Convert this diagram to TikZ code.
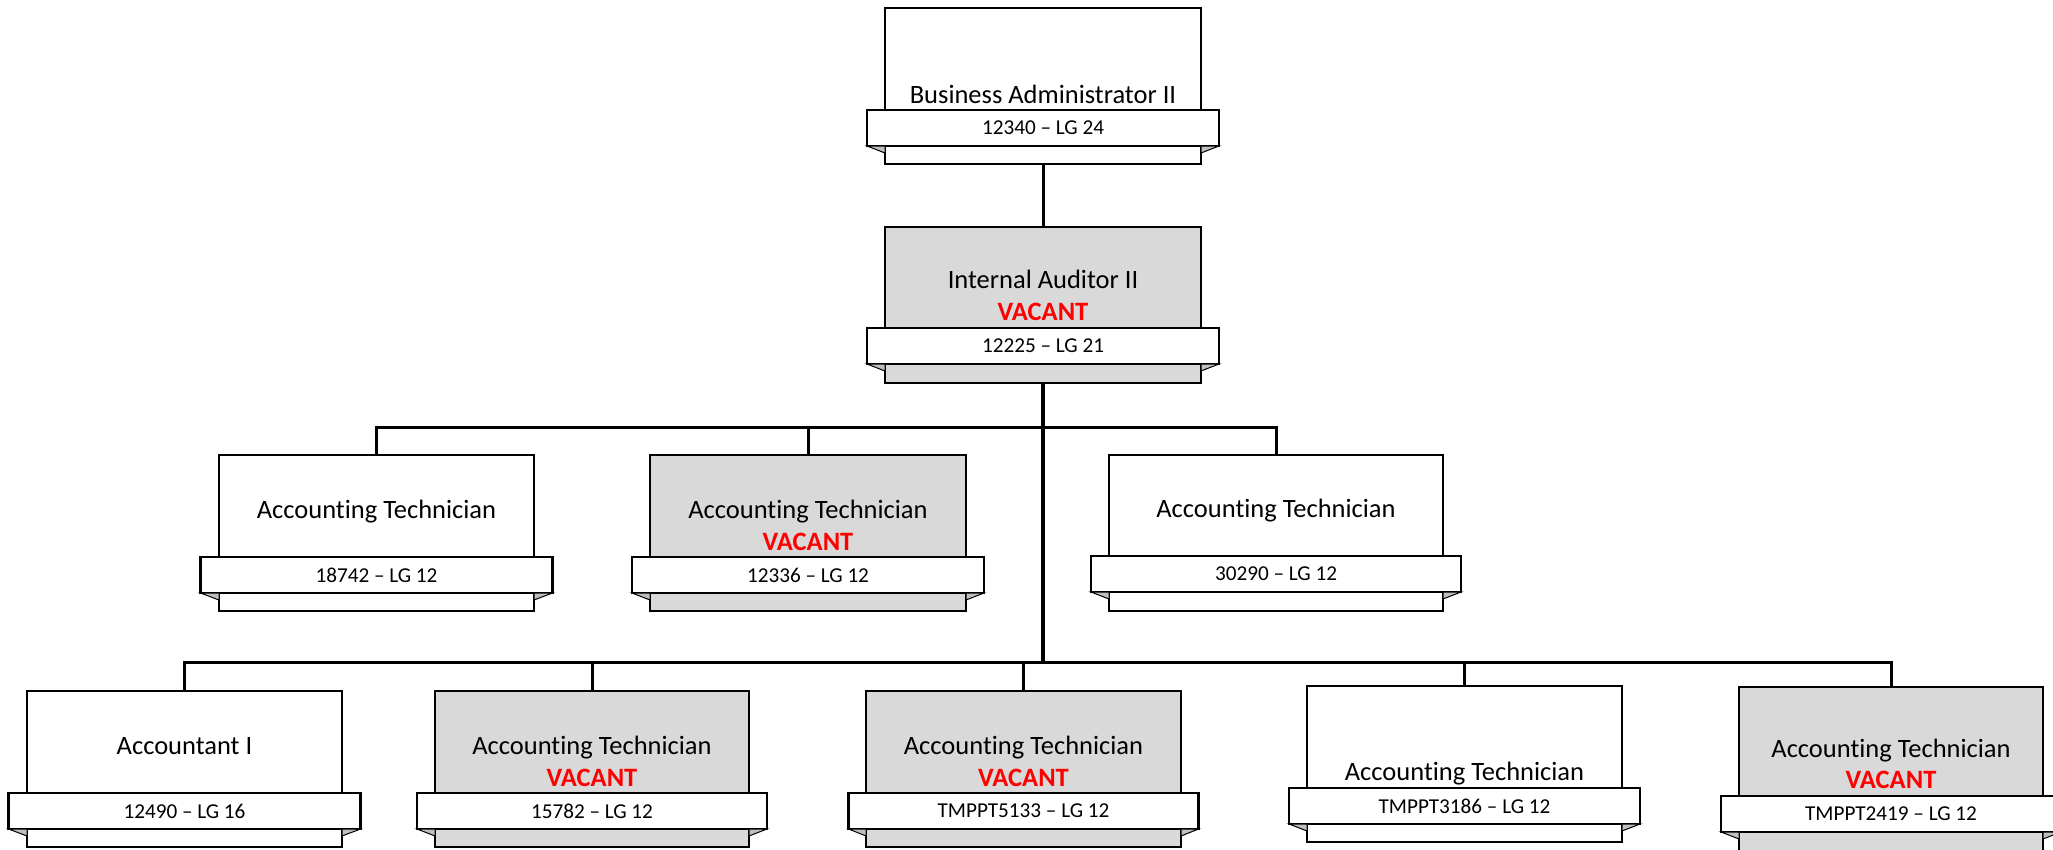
\documentclass[tikz,border=0pt]{standalone}
\usepackage{fontspec}
\setmainfont{Carlito}[Ligatures={TeX,NoCommon}]
\usepackage{tikz}
\usetikzlibrary{positioning}

\definecolor{boxgray}{HTML}{D9D9D9}
\definecolor{tabgray}{HTML}{BFBFBF}
\definecolor{vacantred}{HTML}{FF0000}

\tikzset{
  posbox/.style={draw, line width=1.6pt, fill=white, minimum height=156pt, inner sep=0pt, outer sep=0pt},
  vacantbox/.style={posbox, fill=boxgray},
  banner/.style={draw, line width=2.6pt, fill=white, minimum height=36pt, inner sep=0pt, outer sep=0pt,
    font=\fontsize{21.2}{25}\selectfont},
  title/.style={anchor=base, inner sep=0pt, font=\fontsize{26.5}{31}\selectfont},
  vacant/.style={title, text=vacantred, font=\fontsize{26.5}{31}\selectfont\bfseries},
  tab/.style={fill=tabgray, draw=black, line width=1pt},
  link/.style={line width=3pt},
  trunk/.style={line width=4pt}
}

% small folded ends under a banner
\newcommand{\bannertabs}[2]{%
  \filldraw[tab] (#2.south west) -- ([yshift=-7pt]#2.south west -| #1.west) -- (#2.south west -| #1.west) -- cycle;
  \filldraw[tab] (#2.south east) -- ([yshift=-7pt]#2.south east -| #1.east) -- (#2.south east -| #1.east) -- cycle;}

\begin{document}
\begin{tikzpicture}[x=1pt, y=-1pt]
\useasboundingbox (0,0) rectangle (2053,849);
\clip (0,0) rectangle (2053,849);

% top two levels
\node[posbox, minimum width=316pt] (ba) at (1043,86) {};
\node[title] (ba-title) at ([yshift=-95pt]ba.north) {Business Administrator II};
\node[banner, minimum width=352pt, below=102pt of ba.north] (ba-id) {12340 -- LG 24};
\bannertabs{ba}{ba-id}

\node[vacantbox, minimum width=316pt] (ia) at (1043,305) {};
\node[title] (ia-title) at ([yshift=-61pt]ia.north) {Internal Auditor II};
\node[vacant] (ia-vacant) at ([yshift=-93pt]ia.north) {VACANT};
\node[banner, minimum width=352pt, below=101pt of ia.north] (ia-id) {12225 -- LG 21};
\bannertabs{ia}{ia-id}

% middle row
\node[posbox, minimum width=315pt] (at1) at (376.5,533) {};
\node[title] (at1-title) at ([yshift=-63pt]at1.north) {Accounting Technician};
\node[banner, minimum width=352pt, below=102pt of at1.north] (at1-id) {18742 -- LG 12};
\bannertabs{at1}{at1-id}

\node[vacantbox, minimum width=316pt] (at2) at (808,533) {};
\node[title] (at2-title) at ([yshift=-63pt]at2.north) {Accounting Technician};
\node[vacant] (at2-vacant) at ([yshift=-95pt]at2.north) {VACANT};
\node[banner, minimum width=352pt, below=102pt of at2.north] (at2-id) {12336 -- LG 12};
\bannertabs{at2}{at2-id}

\node[posbox, minimum width=334pt] (at3) at (1276,533) {};
\node[title] (at3-title) at ([yshift=-62pt]at3.north) {Accounting Technician};
\node[banner, minimum width=370pt, below=101pt of at3.north] (at3-id) {30290 -- LG 12};
\bannertabs{at3}{at3-id}

% bottom row
\node[posbox, minimum width=315pt] (ac) at (184.5,769) {};
\node[title] (ac-title) at ([yshift=-63pt]ac.north) {Accountant I};
\node[banner, minimum width=352pt, below=102pt of ac.north] (ac-id) {12490 -- LG 16};
\bannertabs{ac}{ac-id}

\node[vacantbox, minimum width=314pt] (at4) at (592,769) {};
\node[title] (at4-title) at ([yshift=-63pt]at4.north) {Accounting Technician};
\node[vacant] (at4-vacant) at ([yshift=-95pt]at4.north) {VACANT};
\node[banner, minimum width=350pt, below=102pt of at4.north] (at4-id) {15782 -- LG 12};
\bannertabs{at4}{at4-id}

\node[vacantbox, minimum width=315pt] (at5) at (1023.5,769) {};
\node[title] (at5-title) at ([yshift=-63pt]at5.north) {Accounting Technician};
\node[vacant] (at5-vacant) at ([yshift=-95pt]at5.north) {VACANT};
\node[banner, minimum width=350pt, below=102pt of at5.north] (at5-id) {TMPPT5133 -- LG 12};
\bannertabs{at5}{at5-id}

\node[posbox, minimum width=315pt] (at6) at (1464.5,764) {};
\node[title] (at6-title) at ([yshift=-94pt]at6.north) {Accounting Technician};
\node[banner, minimum width=351pt, below=102pt of at6.north] (at6-id) {TMPPT3186 -- LG 12};
\bannertabs{at6}{at6-id}

\node[vacantbox, minimum width=304pt, minimum height=170pt] (at7) at (1891,772) {};
\node[title] (at7-title) at ([yshift=-70pt]at7.north) {Accounting Technician};
\node[vacant] (at7-vacant) at ([yshift=-101pt]at7.north) {VACANT};
\node[banner, minimum width=340pt, below=109pt of at7.north] (at7-id) {TMPPT2419 -- LG 12};
\bannertabs{at7}{at7-id}

% connectors
\coordinate (bus1) at (0,427);
\coordinate (bus2) at (0,662);
\draw[link] (ba.south) -- (ia.north);
\draw[trunk] (ia.south) -- (ia.south |- bus2);
\draw[link] (at1.north) |- (bus1 -| at3.north) -- (at3.north);
\draw[link] (at2.north) -- (at2.north |- bus1);
\draw[link] (ac.north) |- (bus2 -| at7.north) -- (at7.north);
\foreach \n in {at4,at5,at6}
  \draw[link] (\n.north) -- (\n.north |- bus2);
\end{tikzpicture}
\end{document}
